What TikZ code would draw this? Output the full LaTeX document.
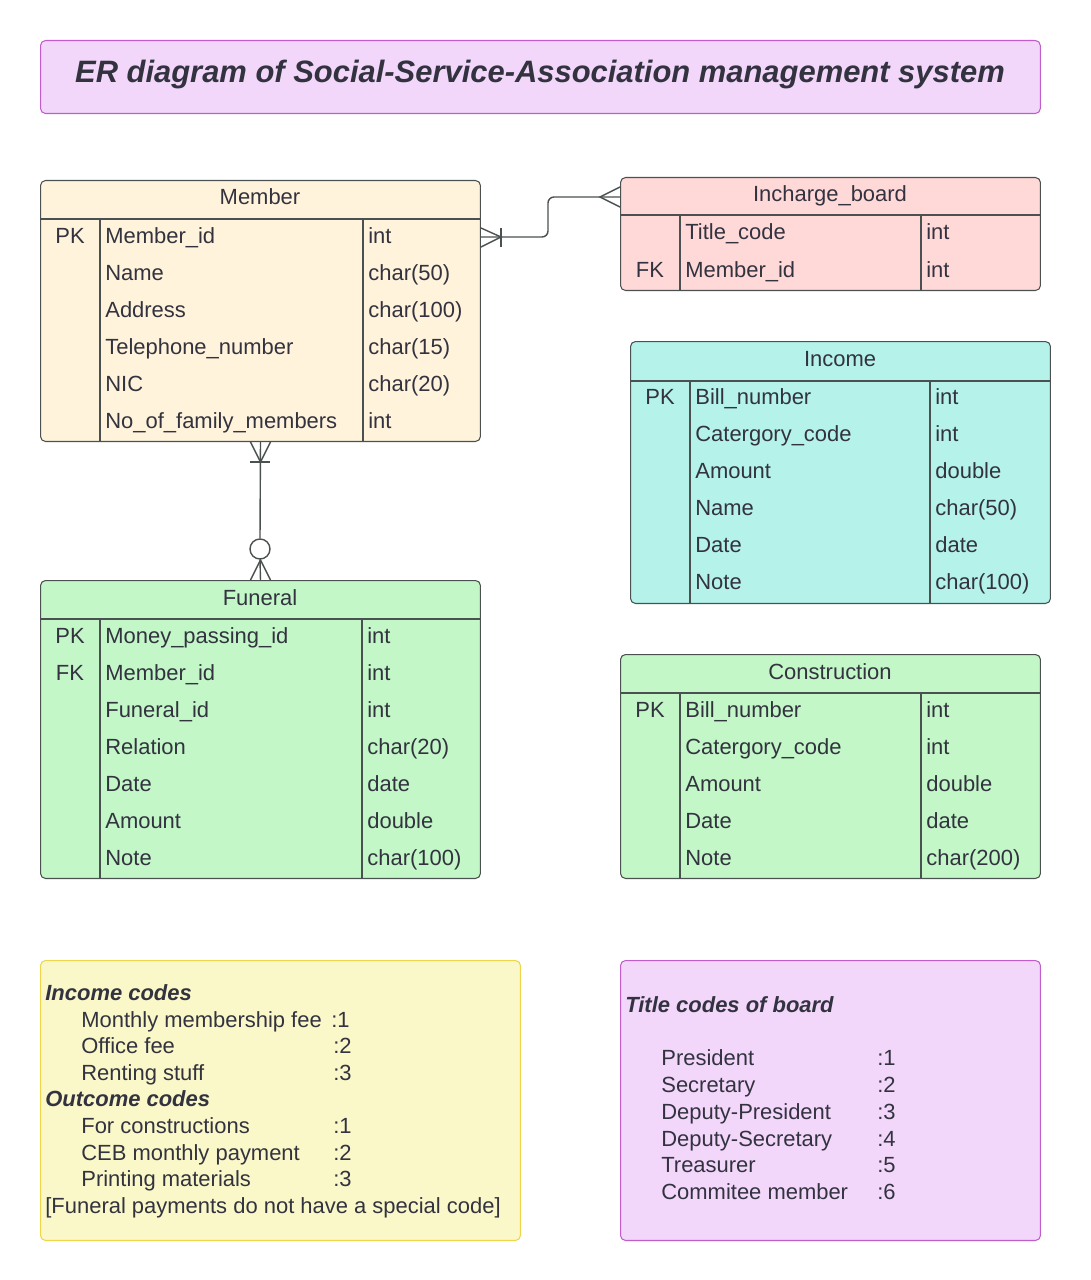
\documentclass[tikz,border=0pt]{standalone}
\usepackage{fontspec}
\setmainfont{Liberation Sans}
\usepackage{tikz}

\definecolor{txt}{HTML}{333340}
\definecolor{edge}{HTML}{4B5050}
\definecolor{lavfill}{HTML}{F2D7FB}
\definecolor{lavline}{HTML}{C05CCB}
\definecolor{memfill}{HTML}{FFF3DB}
\definecolor{boardfill}{HTML}{FFD8D8}
\definecolor{incfill}{HTML}{B4F2EA}
\definecolor{grnfill}{HTML}{C3F7C8}
\definecolor{yelfill}{HTML}{FAF8C8}
\definecolor{yelline}{HTML}{EDD64A}

\begin{document}
\begin{tikzpicture}[x=0.02cm,y=-0.02cm,
  every node/.style={text=txt, inner sep=0pt, font=\fontsize{12.5}{15}\selectfont},
  tbl/.style={draw=edge, line width=0.6pt, rounded corners=0.1cm, anchor=north west},
  key/.style={anchor=base},
  fld/.style={anchor=base west},
  inner/.style={draw=edge, line width=0.6pt},
  conn/.style={draw=edge, line width=0.8pt}]
\useasboundingbox (0,0) rectangle (1090,1280);

% title
\node[tbl, draw=lavline, fill=lavfill, minimum width=20cm, minimum height=1.46cm] (titlebox) at (40,40) {};
\node[anchor=base, font=\fontsize{17.6}{20}\selectfont\bfseries\itshape] (title) at (540,83) {ER diagram of Social-Service-Association management system};

% Member
\node[tbl, fill=memfill, minimum width=8.8cm, minimum height=5.22cm] (member) at (40,180) {};
\draw[inner] (40,219) -- (480,219);
\draw[inner] (100,219) -- (100,441);
\draw[inner] (363,219) -- (363,441);
\node[key] (mhead) at (260,205) {Member};
\node[key] at (70,244) {PK};
\node[fld] (mid) at (105,244) {Member\_id};
\node[fld] at (368,244) {int};
\node[fld] at (105,280) {Name};
\node[fld] at (368,280) {char(50)};
\node[fld] at (105,317) {Address};
\node[fld] at (368,317) {char(100)};
\node[fld] at (105,354) {Telephone\_number};
\node[fld] at (368,354) {char(15)};
\node[fld] at (105,391) {NIC};
\node[fld] at (368,391) {char(20)};
\node[fld] at (105,428) {No\_of\_family\_members};
\node[fld] at (368,428) {int};

% Incharge_board
\node[tbl, fill=boardfill, minimum width=8.4cm, minimum height=2.26cm] (board) at (620,177) {};
\draw[inner] (620,215) -- (1040,215);
\draw[inner] (680,215) -- (680,290);
\draw[inner] (921,215) -- (921,290);
\node[key] (bhead) at (830,202) {Incharge\_board};
\node[fld] at (685,240) {Title\_code};
\node[fld] at (926,240) {int};
\node[key] at (650,277) {FK};
\node[fld] at (685,277) {Member\_id};
\node[fld] at (926,277) {int};

% Income
\node[tbl, fill=incfill, minimum width=8.4cm, minimum height=5.24cm] (income) at (630,341) {};
\draw[inner] (630,381) -- (1050,381);
\draw[inner] (690,381) -- (690,603);
\draw[inner] (930,381) -- (930,603);
\node[key] at (840,366) {Income};
\node[key] at (660,404) {PK};
\node[fld] at (695,404) {Bill\_number};
\node[fld] at (935,404) {int};
\node[fld] at (695,441) {Catergory\_code};
\node[fld] at (935,441) {int};
\node[fld] at (695,478) {Amount};
\node[fld] at (935,478) {double};
\node[fld] at (695,515) {Name};
\node[fld] at (935,515) {char(50)};
\node[fld] at (695,552) {Date};
\node[fld] at (935,552) {date};
\node[fld] at (695,589) {Note};
\node[fld] at (935,589) {char(100)};

% Funeral
\node[tbl, fill=grnfill, minimum width=8.8cm, minimum height=5.96cm] (funeral) at (40,580) {};
\draw[inner] (40,619) -- (480,619);
\draw[inner] (100,619) -- (100,878);
\draw[inner] (362,619) -- (362,878);
\node[key] (fhead) at (260,605) {Funeral};
\node[key] at (70,643) {PK};
\node[fld] at (105,643) {Money\_passing\_id};
\node[fld] at (367,643) {int};
\node[key] at (70,680) {FK};
\node[fld] at (105,680) {Member\_id};
\node[fld] at (367,680) {int};
\node[fld] at (105,717) {Funeral\_id};
\node[fld] at (367,717) {int};
\node[fld] at (105,754) {Relation};
\node[fld] at (367,754) {char(20)};
\node[fld] at (105,791) {Date};
\node[fld] at (367,791) {date};
\node[fld] at (105,828) {Amount};
\node[fld] at (367,828) {double};
\node[fld] at (105,865) {Note};
\node[fld] at (367,865) {char(100)};

% Construction
\node[tbl, fill=grnfill, minimum width=8.4cm, minimum height=4.48cm] (constr) at (620,654) {};
\draw[inner] (620,693) -- (1040,693);
\draw[inner] (680,693) -- (680,878);
\draw[inner] (921,693) -- (921,878);
\node[key] at (830,679) {Construction};
\node[key] at (650,717) {PK};
\node[fld] at (685,717) {Bill\_number};
\node[fld] at (926,717) {int};
\node[fld] at (685,754) {Catergory\_code};
\node[fld] at (926,754) {int};
\node[fld] at (685,791) {Amount};
\node[fld] at (926,791) {double};
\node[fld] at (685,828) {Date};
\node[fld] at (926,828) {date};
\node[fld] at (685,865) {Note};
\node[fld] at (926,865) {char(200)};

% Member -- Incharge_board
\coordinate (ma) at (member.east |- 0,237);
\coordinate (ba) at (board.west |- 0,197);
\draw[conn, rounded corners=0.12cm] (ma) -- (548,237) -- (548,197) -- (ba);
\draw[conn] (ma) ++(0,-9) -- ++(20,9) -- ++(-20,10);
\draw[conn] (ma) ++(20,-9) -- ++(0,19);
\draw[conn] (ba) ++(0,-10) -- ++(-20,10) -- ++(20,10);

% Member -- Funeral
\coordinate (mb) at (member.south);
\coordinate (ft) at (funeral.north);
\node[conn, circle, fill=white, minimum size=0.4cm] (opt) at (260,549) {};
\draw[conn] (mb) -- (opt.north);
\draw[conn] (opt.south) -- (ft);
\draw[conn] (mb) ++(-10,0) -- ++(10,20) -- ++(10,-20);
\draw[conn] (mb) ++(-10,20) -- ++(20,0);
\draw[conn] (ft) ++(-10,0) -- ++(10,-20) -- ++(10,20);

% code notes
\node[tbl, draw=yelline, fill=yelfill, minimum width=9.6cm, minimum height=5.6cm] (codes) at (40,960) {};
\node[fld, font=\fontsize{12.5}{15}\selectfont\bfseries\itshape] at (45,1000) {Income codes};
\node[fld] at (81,1027) {Monthly membership fee};
\node[fld] at (331,1027) {:1};
\node[fld] at (81,1053) {Office fee};
\node[fld] at (333,1053) {:2};
\node[fld] at (81,1080) {Renting stuff};
\node[fld] at (333,1080) {:3};
\node[fld, font=\fontsize{12.5}{15}\selectfont\bfseries\itshape] at (45,1106) {Outcome codes};
\node[fld] at (81,1133) {For constructions};
\node[fld] at (333,1133) {:1};
\node[fld] at (81,1160) {CEB monthly payment};
\node[fld] at (333,1160) {:2};
\node[fld] at (81,1186) {Printing materials};
\node[fld] at (333,1186) {:3};
\node[fld] at (45,1213) {[Funeral payments do not have a special code]};

\node[tbl, draw=lavline, fill=lavfill, minimum width=8.4cm, minimum height=5.6cm] (titles) at (620,960) {};
\node[fld, font=\fontsize{12.5}{15}\selectfont\bfseries\itshape] at (625,1012) {Title codes of board};
\node[fld] at (661,1065) {President};
\node[fld] at (877,1065) {:1};
\node[fld] at (661,1092) {Secretary};
\node[fld] at (877,1092) {:2};
\node[fld] at (661,1119) {Deputy-President};
\node[fld] at (877,1119) {:3};
\node[fld] at (661,1146) {Deputy-Secretary};
\node[fld] at (877,1146) {:4};
\node[fld] at (661,1172) {Treasurer};
\node[fld] at (877,1172) {:5};
\node[fld] at (661,1199) {Commitee member};
\node[fld] at (877,1199) {:6};
\end{tikzpicture}
\end{document}
